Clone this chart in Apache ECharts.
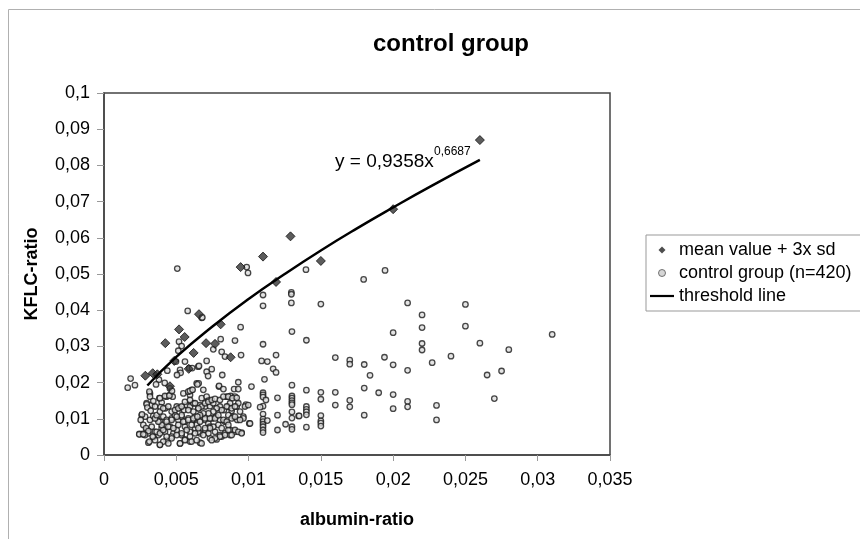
<!DOCTYPE html>
<html>
<head>
<meta charset="utf-8">
<script src="https://cdn.jsdelivr.net/npm/echarts@6/dist/echarts.min.js"></script>
<style>
    html, body {margin: 0; padding: 0; background: #fff;}
    #scatter {width: 860px; height: 539px;}
</style>
</head>
<body>
<div id="scatter"></div>
<script>
// mean value + 3x sd (filled diamonds)
var meanSdPoints = [
    [0.00286, 0.0219], [0.00337, 0.0226], [0.00369, 0.0223], [0.00456, 0.0190], [0.00486, 0.0260],
    [0.00586, 0.0238], [0.0062, 0.0282], [0.00424, 0.0309], [0.00519, 0.0347], [0.00558, 0.0326],
    [0.00657, 0.0389], [0.00706, 0.0309], [0.00768, 0.0307], [0.00807, 0.0361], [0.00876, 0.0270],
    [0.00945, 0.0519], [0.011, 0.0548], [0.0119, 0.0478], [0.0129, 0.0604], [0.015, 0.0536],
    [0.020, 0.0679], [0.026, 0.0870]
];

// control group (n=420), upper and right part
var controlSparse = [
    [0.00507, 0.0515], [0.00987, 0.0519], [0.00996, 0.0503], [0.01397, 0.0512], [0.01796, 0.0485], [0.01944, 0.051],
    [0.011, 0.0442], [0.011, 0.0412], [0.01296, 0.0449], [0.01296, 0.0444], [0.01296, 0.042], [0.015, 0.0417], [0.021, 0.042],
    [0.013, 0.0341], [0.014, 0.0317], [0.011, 0.0306], [0.02, 0.0338], [0.016, 0.0269], [0.017, 0.0262], [0.017, 0.0251],
    [0.018, 0.025], [0.0184, 0.022], [0.0194, 0.027], [0.02, 0.0249], [0.021, 0.0234],
    [0.0109, 0.026], [0.0113, 0.0258], [0.0119, 0.0276], [0.0117, 0.0238], [0.0119, 0.0228], [0.0111, 0.0209],
    [0.0102, 0.0189], [0.013, 0.0193], [0.014, 0.0179], [0.015, 0.0173], [0.015, 0.0154], [0.016, 0.0173],
    [0.017, 0.0151], [0.017, 0.0133], [0.018, 0.0185], [0.018, 0.011], [0.019, 0.0172], [0.02, 0.0167],
    [0.02, 0.0128], [0.021, 0.0148], [0.021, 0.0133],
    [0.011, 0.0172], [0.011, 0.0166], [0.011, 0.016], [0.011, 0.0135], [0.011, 0.0113], [0.011, 0.0099],
    [0.011, 0.0092], [0.011, 0.0085], [0.011, 0.0078], [0.011, 0.0069], [0.011, 0.0062], [0.0108, 0.0132],
    [0.0112, 0.0152], [0.0113, 0.0095],
    [0.012, 0.0158], [0.012, 0.011], [0.012, 0.0069],
    [0.013, 0.0163], [0.013, 0.0157], [0.013, 0.015], [0.013, 0.0144], [0.013, 0.0139], [0.013, 0.0119],
    [0.013, 0.0102], [0.013, 0.0078], [0.013, 0.0071], [0.01256, 0.0085], [0.01346, 0.0108],
    [0.014, 0.0134], [0.014, 0.0126], [0.014, 0.0119], [0.014, 0.0111], [0.014, 0.0077],
    [0.015, 0.0109], [0.015, 0.0094], [0.015, 0.0088], [0.015, 0.008], [0.016, 0.0138],
    [0.025, 0.0416], [0.025, 0.0356], [0.026, 0.0309], [0.028, 0.0291], [0.031, 0.0333], [0.024, 0.0273],
    [0.0227, 0.0255], [0.022, 0.0387], [0.022, 0.0352], [0.022, 0.0308], [0.022, 0.029], [0.0265, 0.0221],
    [0.0275, 0.0232], [0.027, 0.0156], [0.023, 0.0137], [0.023, 0.0097], [0.0135, 0.0108]
];

// control group, middle band above the dense cluster
var controlMiddle = [
    [0.00579, 0.0398], [0.00676, 0.0379], [0.0068, 0.038], [0.00945, 0.0353], [0.00906, 0.0316], [0.00807, 0.032],
    [0.00519, 0.0313], [0.00537, 0.0301], [0.00514, 0.0288], [0.0056, 0.0258], [0.00498, 0.0258], [0.00526, 0.0235],
    [0.0053, 0.0227], [0.00505, 0.0221], [0.0059, 0.024], [0.0061, 0.024], [0.00652, 0.0244], [0.00438, 0.0233],
    [0.00184, 0.0211], [0.00164, 0.0186], [0.00214, 0.0193], [0.00756, 0.0292], [0.00814, 0.0285], [0.00837, 0.0272],
    [0.00948, 0.0276], [0.0071, 0.026], [0.00657, 0.0246], [0.00745, 0.0237], [0.0071, 0.023], [0.0072, 0.0218],
    [0.00818, 0.0221], [0.00929, 0.0201], [0.00687, 0.018], [0.00795, 0.0189], [0.009, 0.0182],
    [0.0038, 0.0208], [0.0042, 0.0199], [0.0036, 0.0195]
];

// control group, dense cluster
var controlDense = [
    [0.00318, 0.0170], [0.00383, 0.0157], [0.00399, 0.0145], [0.00433, 0.0161], [0.00457, 0.0166], [0.00475, 0.0161],
    [0.00607, 0.0180], [0.00595, 0.0166], [0.00641, 0.0198], [0.00655, 0.0198], [0.00549, 0.0170], [0.00583, 0.0175],
    [0.00676, 0.0157], [0.00710, 0.0161], [0.00722, 0.0150], [0.00796, 0.0191], [0.00826, 0.0182], [0.00849, 0.0161],
    [0.00876, 0.0163], [0.00906, 0.0161], [0.00929, 0.0182],
    [0.00295, 0.0143], [0.00330, 0.0138], [0.00353, 0.0134], [0.00392, 0.0132], [0.00424, 0.0129], [0.00503, 0.0134],
    [0.00526, 0.0129], [0.00553, 0.0124], [0.00572, 0.0138], [0.00595, 0.0134], [0.00618, 0.0143], [0.00664, 0.0138],
    [0.00701, 0.0134], [0.00733, 0.0135], [0.00756, 0.0143], [0.00779, 0.0129], [0.00802, 0.0134], [0.00830, 0.0124],
    [0.00860, 0.0134], [0.00883, 0.0122], [0.00918, 0.0134], [0.00982, 0.0139],
    [0.00261, 0.0110], [0.00284, 0.0106], [0.00318, 0.0097], [0.00341, 0.0108], [0.00364, 0.0101], [0.00387, 0.0092],
    [0.00410, 0.0106], [0.00433, 0.0097], [0.00468, 0.0101], [0.00491, 0.0110], [0.00514, 0.0097], [0.00537, 0.0106],
    [0.00560, 0.0092], [0.00583, 0.0101], [0.00618, 0.0097], [0.00641, 0.0087], [0.00676, 0.0106], [0.00699, 0.0097],
    [0.00722, 0.0087], [0.00745, 0.0101], [0.00775, 0.0106], [0.00802, 0.0097], [0.00837, 0.0092], [0.00860, 0.0110],
    [0.00895, 0.0106], [0.00922, 0.0097], [0.00964, 0.0106], [0.01005, 0.0087],
    [0.00245, 0.0058], [0.00268, 0.0058], [0.00295, 0.0069], [0.00307, 0.0060], [0.00330, 0.0078], [0.00353, 0.0064],
    [0.00376, 0.0055], [0.00399, 0.0074], [0.00422, 0.0064], [0.00457, 0.0078], [0.00480, 0.0060], [0.00503, 0.0069],
    [0.00537, 0.0055], [0.00560, 0.0078], [0.00595, 0.0064], [0.00630, 0.0074], [0.00664, 0.0060], [0.00699, 0.0069],
    [0.00733, 0.0078], [0.00768, 0.0064], [0.00802, 0.0055], [0.00837, 0.0060], [0.00872, 0.0069], [0.00906, 0.0064],
    [0.00952, 0.0062],
    [0.00307, 0.0034], [0.00341, 0.0049], [0.00387, 0.0028], [0.00433, 0.0041], [0.00468, 0.0051], [0.00526, 0.0032],
    [0.00560, 0.0043], [0.00595, 0.0037], [0.00664, 0.0034], [0.00733, 0.0046], [0.00779, 0.0043], [0.00814, 0.0051],
    [0.00872, 0.0055],
    [0.00652, 0.0129], [0.00675, 0.0134], [0.00699, 0.0143], [0.00722, 0.0147], [0.00745, 0.0152], [0.00768, 0.0155],
    [0.00802, 0.0152], [0.00826, 0.0161], [0.00860, 0.0161], [0.00888, 0.0157], [0.00918, 0.0158], [0.00929, 0.0143],
    [0.00872, 0.0143], [0.00849, 0.0134], [0.00883, 0.0129], [0.00906, 0.0134], [0.00941, 0.0120], [0.00975, 0.0134],
    [0.00998, 0.0138], [0.00964, 0.0101], [0.01010, 0.0087], [0.00906, 0.0069], [0.00929, 0.0064], [0.00952, 0.0060],
    [0.00860, 0.0069], [0.00883, 0.0055], [0.00837, 0.0055], [0.00802, 0.0051], [0.00768, 0.0046], [0.00745, 0.0041],
    [0.00722, 0.0060], [0.00687, 0.0055], [0.00675, 0.0032], [0.00652, 0.0064], [0.00641, 0.0083], [0.00664, 0.0092],
    [0.00699, 0.0101], [0.00733, 0.0101], [0.00768, 0.0101], [0.00791, 0.0110], [0.00814, 0.0124], [0.00779, 0.0129],
    [0.00756, 0.0120], [0.00722, 0.0115], [0.00687, 0.0115], [0.00664, 0.0110], [0.00629, 0.0106], [0.00826, 0.0097],
    [0.00849, 0.0092], [0.00883, 0.0101], [0.00906, 0.0106], [0.00941, 0.0097], [0.00791, 0.0083], [0.00756, 0.0078],
    [0.00733, 0.0074], [0.00699, 0.0074], [0.00814, 0.0074], [0.00860, 0.0083],
    [0.00314, 0.0175], [0.00318, 0.0161], [0.00341, 0.0149], [0.00295, 0.0140], [0.00300, 0.0131], [0.00323, 0.0122],
    [0.00263, 0.0112], [0.00254, 0.0097], [0.00272, 0.0083], [0.00291, 0.0074], [0.00307, 0.0066], [0.00284, 0.0055],
    [0.00244, 0.0057], [0.00272, 0.0057], [0.00314, 0.0037], [0.00353, 0.0041], [0.00337, 0.0051], [0.00364, 0.0064],
    [0.00387, 0.0060], [0.00410, 0.0069], [0.00399, 0.0083], [0.00376, 0.0092], [0.00353, 0.0101], [0.00364, 0.0110],
    [0.00387, 0.0120], [0.00410, 0.0129], [0.00445, 0.0134], [0.00468, 0.0120], [0.00491, 0.0124], [0.00514, 0.0129],
    [0.00537, 0.0134], [0.00560, 0.0147], [0.00595, 0.0152], [0.00630, 0.0143], [0.00653, 0.0129], [0.00618, 0.0120],
    [0.00583, 0.0124], [0.00537, 0.0110], [0.00503, 0.0106], [0.00468, 0.0097], [0.00433, 0.0092], [0.00445, 0.0078],
    [0.00480, 0.0074], [0.00514, 0.0083], [0.00549, 0.0092], [0.00583, 0.0097], [0.00618, 0.0101], [0.00646, 0.0106],
    [0.00606, 0.0083], [0.00572, 0.0069], [0.00537, 0.0060], [0.00503, 0.0055], [0.00468, 0.0046], [0.00433, 0.0051],
    [0.00410, 0.0037], [0.00387, 0.0028], [0.00445, 0.0032], [0.00526, 0.0032], [0.00560, 0.0041], [0.00595, 0.0051],
    [0.00630, 0.0060], [0.00653, 0.0074], [0.00606, 0.0037], [0.00641, 0.0041], [0.00387, 0.0157], [0.00422, 0.0163],
    [0.00452, 0.0164], [0.00456, 0.0184], [0.00470, 0.0177], [0.00595, 0.0177], [0.00613, 0.0180], [0.00646, 0.0195]
];

// threshold line y = 0,9358x^0,6687
var thresholdX = [0.003, 0.005, 0.0075, 0.01, 0.0125, 0.015, 0.0175, 0.02, 0.0225, 0.026];
var thresholdY = [0.0192, 0.0271, 0.0355, 0.0431, 0.0500, 0.0565, 0.0626, 0.0684, 0.0740, 0.0815];

var controlPoints = controlSparse.concat(controlMiddle, controlDense);
var thresholdPoints = thresholdX.map(function (x, i) { return [x, thresholdY[i]]; });

function commaNum(v) {
    return String(+v.toFixed(4)).replace('.', ',');
}

var scatter = echarts.init(document.getElementById('scatter'));
scatter.setOption({
    animation: false,
    backgroundColor: '#fff',
    textStyle: {fontFamily: 'Liberation Sans, Arial, sans-serif'},
    title: {
        text: 'control group',
        left: 446, top: 27, textAlign: 'center',
        textStyle: {fontSize: 24, fontWeight: 'bold', color: '#000'}
    },
    legend: {
        left: 646, top: 235,
        orient: 'vertical',
        borderColor: '#999', borderWidth: 1,
        padding: [6, 40, 6, 4],
        itemGap: 5, itemWidth: 24, itemHeight: 7,
        symbolKeepAspect: true,
        textStyle: {fontSize: 18, color: '#000'},
        data: [
            {name: 'mean value + 3x sd', icon: 'path://M0,-1L1,0L0,1L-1,0Z', itemStyle: {color: '#222', borderWidth: 0}},
            {name: 'control group (n=420)', icon: 'circle', itemStyle: {color: '#ccc', borderColor: '#555', borderWidth: 1}},
            {name: 'threshold line', icon: 'path://M0,0H24V2.2H0Z', itemStyle: {color: '#000', borderWidth: 0}}
        ]
    },
    grid: {left: 104, top: 93, width: 506, height: 362, show: true, borderColor: '#444', borderWidth: 1.5},
    xAxis: {
        type: 'value', min: 0, max: 0.035, interval: 0.005,
        name: 'albumin-ratio', nameLocation: 'middle', nameGap: 56,
        nameTextStyle: {fontSize: 18, fontWeight: 'bold', color: '#000'},
        axisLine: {lineStyle: {color: '#444', width: 1.5}},
        axisTick: {show: true, length: 6, lineStyle: {color: '#999'}},
        axisLabel: {fontSize: 18, color: '#000', margin: 16, formatter: commaNum},
        splitLine: {show: false}
    },
    yAxis: {
        type: 'value', min: 0, max: 0.1, interval: 0.01,
        name: 'KFLC-ratio', nameLocation: 'middle', nameGap: 63,
        nameTextStyle: {fontSize: 18, fontWeight: 'bold', color: '#000'},
        axisLine: {show: true, lineStyle: {color: '#444', width: 1.5}},
        axisTick: {show: true, length: 7, lineStyle: {color: '#999'}},
        axisLabel: {fontSize: 18, color: '#000', margin: 14, formatter: commaNum},
        splitLine: {show: false}
    },
    graphic: [
        {type: 'rect', left: 6, top: 7, shape: {width: 900, height: 600}, style: {fill: 'none', stroke: '#b0b0b0', lineWidth: 1}, z: -1},
        {type: 'text', left: 335, top: 152, style: {text: 'y = 0,9358x', fontSize: 19, fill: '#000', fontFamily: 'Liberation Sans, Arial'}},
        {type: 'text', left: 434, top: 146, style: {text: '0,6687', fontSize: 12, fill: '#000', fontFamily: 'Liberation Sans, Arial'}}
    ],
    series: [
        {
            name: 'control group (n=420)',
            type: 'scatter',
            symbol: 'circle', symbolSize: 5.5,
            itemStyle: {color: '#ddd', borderColor: '#1a1a1a', borderWidth: 1.3},
            data: controlPoints
        },
        {
            name: 'mean value + 3x sd',
            type: 'scatter',
            symbol: 'diamond', symbolSize: 9,
            itemStyle: {color: '#333', borderColor: '#111', borderWidth: 1},
            data: meanSdPoints
        },
        {
            name: 'threshold line',
            type: 'line',
            smooth: true, symbol: 'none',
            lineStyle: {color: '#000', width: 2.5},
            itemStyle: {color: '#000'},
            data: thresholdPoints
        }
    ]
});
</script>
</body>
</html>
